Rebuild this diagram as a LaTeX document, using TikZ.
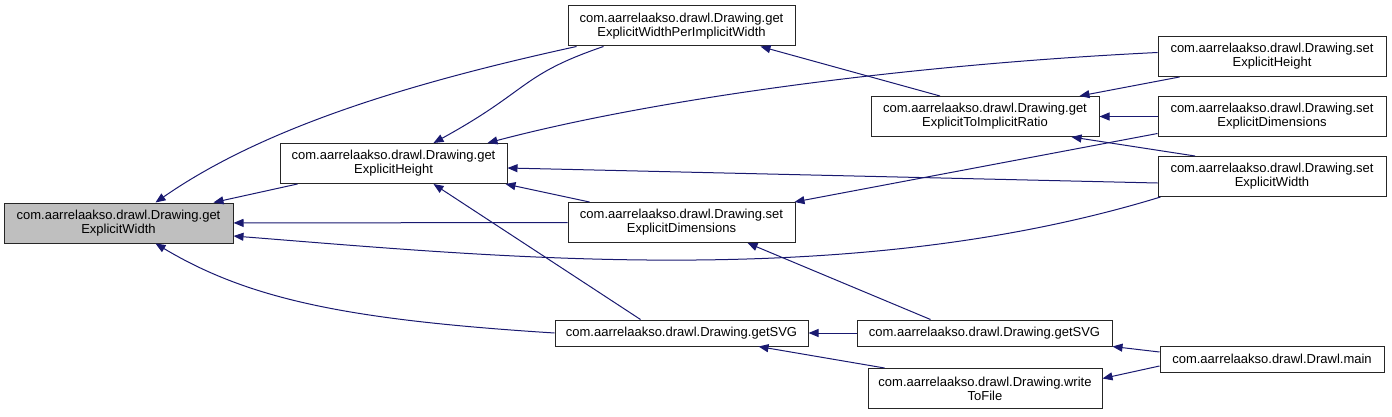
\documentclass[tikz,border=0pt]{standalone}
\usepackage{fontspec}
\setmainfont{Liberation Sans}
\usetikzlibrary{arrows.meta}

\definecolor{edgeblue}{HTML}{191970}
\definecolor{selfgray}{HTML}{BFBFBF}

\tikzset{
  fn/.style={draw=black!85, fill=white, align=center, inner sep=0pt,
             minimum width=228pt, minimum height=40pt, line width=1pt,
             font=\fontsize{13}{14}\selectfont},
  call/.style={draw=edgeblue, line width=1pt,
               -{Triangle[length=10pt,width=8pt]}}
}

\begin{document}
\begin{tikzpicture}[x=1pt, y=-1pt]
  \useasboundingbox (0,0) rectangle (1392,417);

  % functions
  \node[fn, fill=selfgray, minimum width=229pt] (gew) at (118.5,223)
       {com.aarrelaakso.drawl.Drawing.get\\ExplicitWidth};
  \node[fn, minimum width=227pt] (geh) at (393.5,163.5)
       {com.aarrelaakso.drawl.Drawing.get\\ExplicitHeight};
  \node[fn, minimum width=227pt] (gewpiw) at (681.5,26)
       {com.aarrelaakso.drawl.Drawing.get\\ExplicitWidthPerImplicitWidth};
  \node[fn, minimum width=227pt] (sedm) at (681.5,222.5)
       {com.aarrelaakso.drawl.Drawing.set\\ExplicitDimensions};
  \node[fn, minimum width=253pt, minimum height=26pt] (gsvgm) at (681.5,333)
       {com.aarrelaakso.drawl.Drawing.getSVG};
  \node[fn] (getir) at (985,116.5)
       {com.aarrelaakso.drawl.Drawing.get\\ExplicitToImplicitRatio};
  \node[fn, minimum width=255pt, minimum height=26pt] (gsvgr) at (984.5,333)
       {com.aarrelaakso.drawl.Drawing.getSVG};
  \node[fn, minimum width=234pt] (wtf) at (985,388.5)
       {com.aarrelaakso.drawl.Drawing.write\\ToFile};
  \node[fn] (seh) at (1272,56.5)
       {com.aarrelaakso.drawl.Drawing.set\\ExplicitHeight};
  \node[fn] (sedr) at (1272,116.5)
       {com.aarrelaakso.drawl.Drawing.set\\ExplicitDimensions};
  \node[fn] (sew) at (1272,176.5)
       {com.aarrelaakso.drawl.Drawing.set\\ExplicitWidth};
  \node[fn, minimum width=224pt, minimum height=26pt] (main) at (1272,359)
       {com.aarrelaakso.drawl.Drawl.main};

  % calls into getExplicitWidth
  \draw[call] ([xshift=9pt]gewpiw.south west) .. controls (400,85) and (260,130) .. ([xshift=37pt]gew.north);
  \draw[call] ([xshift=18pt]geh.south west) -- ([xshift=-20pt]gew.north east);
  \draw[call] (sedm) -- (gew);
  \draw[call] ([xshift=3pt]sew.south west) .. controls (850,292) and (500,257) .. ([yshift=-13pt]gew.east);
  \draw[call] (gsvgm.west) .. controls (350,320) and (250,300) .. ([xshift=37pt]gew.south);

  % calls into getExplicitHeight
  \draw[call] ([xshift=36pt]gewpiw.south west) .. controls (520,75) and (530,90) .. ([xshift=40pt]geh.north);
  \draw[call] ([yshift=4pt]seh.west) .. controls (900,65) and (650,100) .. ([xshift=-20pt]geh.north east);
  \draw[call] ([yshift=-6.5pt]sew.west) -- ([yshift=-4.5pt]geh.east);
  \draw[call] ([xshift=22pt]sedm.north west) -- ([xshift=-2pt]geh.south east);
  \draw[call] ([xshift=-41pt]gsvgm.north) -- ([xshift=40pt]geh.south);

  % the rest
  \draw[call] ([xshift=-45pt]getir.north) -- ([xshift=-35pt]gewpiw.south east);
  \draw[call] ([xshift=22pt]seh.south west) -- ([xshift=-20pt]getir.north east);
  \draw[call] (sedr) -- (getir);
  \draw[call] ([xshift=-77pt]sew.north) -- ([xshift=-28pt]getir.south east);
  \draw[call] ([yshift=-17pt]sedr.west) -- ([xshift=-1pt]sedm.north east);
  \draw[call] ([xshift=-54pt]gsvgr.north) -- ([xshift=-48pt]sedm.south east);
  \draw[call] (gsvgr) -- (gsvgm);
  \draw[call] ([xshift=17pt]wtf.north west) -- ([xshift=-50pt]gsvgm.south east);
  \draw[call] ([yshift=7pt]main.west) -- (gsvgr.south east);
  \draw[call] ([yshift=-7pt]main.west) -- ([yshift=10pt]wtf.east);
\end{tikzpicture}
\end{document}
